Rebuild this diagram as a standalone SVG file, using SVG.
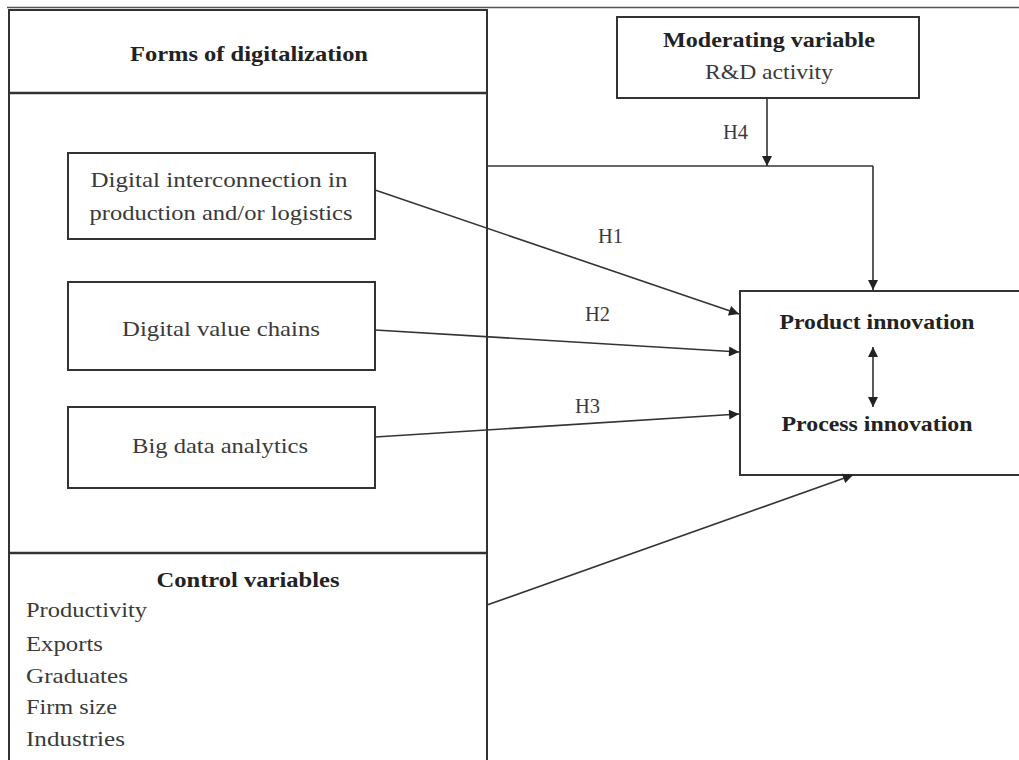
<svg xmlns="http://www.w3.org/2000/svg" width="1019" height="760" viewBox="0 0 1019 760">
<defs>
<marker id="ah" viewBox="0 0 10 10" refX="10" refY="5" markerWidth="11" markerHeight="10" markerUnits="userSpaceOnUse" orient="auto-start-reverse">
<path d="M0,0 L10,5 L0,10 z" fill="#222"/>
</marker>
<style>
.box{fill:#fff;stroke:#333;stroke-width:2}
.ln{fill:none;stroke:#333;stroke-width:1.6}
.arr{fill:none;stroke:#333;stroke-width:1.6;marker-end:url(#ah)}
.t{font-family:"Liberation Serif",serif;font-size:22px;fill:#3a3a3a}
.b{font-family:"Liberation Serif",serif;font-size:22px;font-weight:bold;fill:#222}
.c{text-anchor:middle}
</style>
</defs>
<rect width="1019" height="760" fill="#fff"/>
<line x1="7" y1="7.5" x2="1019" y2="7.5" stroke="#555" stroke-width="1.5"/>
<g id="forms">
<rect class="box" x="9" y="10" width="478" height="770"/>
<line x1="9" y1="93" x2="487" y2="93" stroke="#333" stroke-width="2.5"/>
<line x1="9" y1="553" x2="487" y2="553" stroke="#333" stroke-width="2.5"/>
<text class="b c" x="249" y="61" textLength="238" lengthAdjust="spacingAndGlyphs">Forms of digitalization</text>
</g>
<g id="n1">
<rect class="box" x="68" y="153" width="307" height="86"/>
<text class="t c" x="219" y="187" textLength="257" lengthAdjust="spacingAndGlyphs">Digital interconnection in</text>
<text class="t c" x="221" y="220" textLength="263" lengthAdjust="spacingAndGlyphs">production and/or logistics</text>
</g>
<g id="n2">
<rect class="box" x="68" y="282" width="307" height="88"/>
<text class="t c" x="221" y="336" textLength="198" lengthAdjust="spacingAndGlyphs">Digital value chains</text>
</g>
<g id="n3">
<rect class="box" x="68" y="407" width="307" height="81"/>
<text class="t c" x="220" y="453" textLength="176" lengthAdjust="spacingAndGlyphs">Big data analytics</text>
</g>
<g id="control">
<text class="b c" x="248" y="587" textLength="183" lengthAdjust="spacingAndGlyphs">Control variables</text>
<text class="t" x="26" y="617" textLength="121" lengthAdjust="spacingAndGlyphs">Productivity</text>
<text class="t" x="26" y="651" textLength="77" lengthAdjust="spacingAndGlyphs">Exports</text>
<text class="t" x="26" y="683" textLength="102" lengthAdjust="spacingAndGlyphs">Graduates</text>
<text class="t" x="26" y="714" textLength="91" lengthAdjust="spacingAndGlyphs">Firm size</text>
<text class="t" x="26" y="746" textLength="99" lengthAdjust="spacingAndGlyphs">Industries</text>
</g>
<g id="moderator">
<rect class="box" x="617" y="17" width="302" height="81"/>
<text class="b c" x="769" y="47" textLength="212" lengthAdjust="spacingAndGlyphs">Moderating variable</text>
<text class="t c" x="769" y="79" textLength="128" lengthAdjust="spacingAndGlyphs">R&amp;D activity</text>
</g>
<g id="outcome">
<rect class="box" x="740" y="291" width="300" height="184"/>
<text class="b c" x="877" y="329" textLength="195" lengthAdjust="spacingAndGlyphs">Product innovation</text>
<text class="b c" x="877" y="431" textLength="191" lengthAdjust="spacingAndGlyphs">Process innovation</text>
</g>
<g id="connectors">
<line class="arr" x1="767" y1="98" x2="767" y2="166"/>
<polyline class="ln" points="487,166 873,166"/>
<line class="arr" x1="873" y1="166" x2="873" y2="290"/>
<line class="arr" x1="375" y1="190" x2="739" y2="314"/>
<line class="arr" x1="375" y1="330" x2="739" y2="352"/>
<line class="arr" x1="375" y1="437" x2="739" y2="414"/>
<line class="arr" x1="487" y1="605" x2="853" y2="475"/>
<line class="arr" x1="873" y1="347" x2="873" y2="407" style="marker-start:url(#ah)"/>
<text class="t" x="723" y="139" textLength="25" lengthAdjust="spacingAndGlyphs">H4</text>
<text class="t" x="598" y="243" textLength="25" lengthAdjust="spacingAndGlyphs">H1</text>
<text class="t" x="585" y="321" textLength="25" lengthAdjust="spacingAndGlyphs">H2</text>
<text class="t" x="575" y="413" textLength="25" lengthAdjust="spacingAndGlyphs">H3</text>
</g>
</svg>
